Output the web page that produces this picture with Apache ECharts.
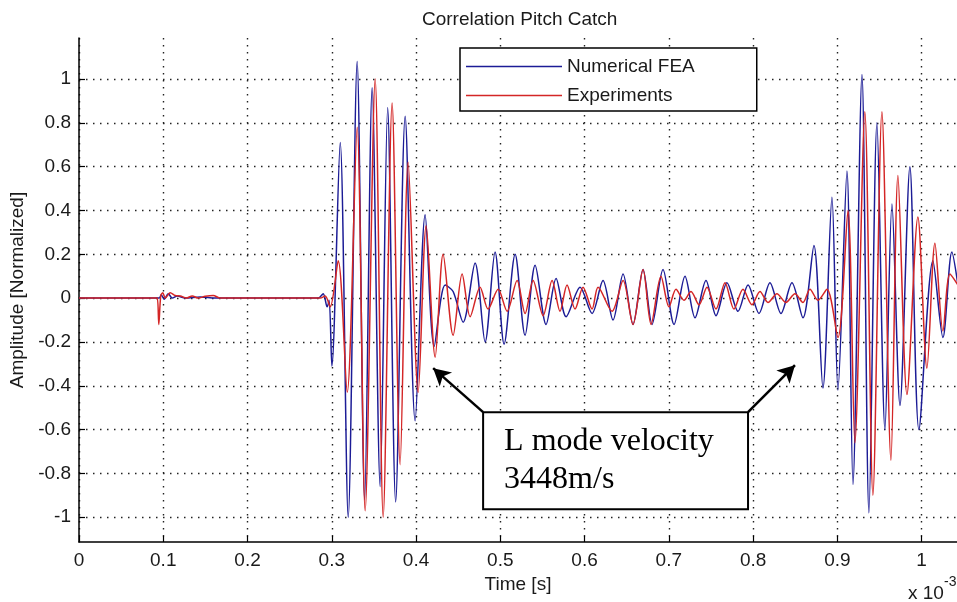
<!DOCTYPE html>
<html><head><meta charset="utf-8">
<script src="https://cdn.jsdelivr.net/npm/echarts@6/dist/echarts.min.js"></script>
<style>html,body{margin:0;padding:0;background:#fff}#c{width:957px;height:602px}</style>
</head><body><div id="c"></div>
<script>
// Time in units of 1e-3 s
const feaTime = [0, 0.0905, 0.0953, 0.0976, 0.1012, 0.1059, 0.1107, 0.1166, 0.1261, 0.1439, 0.1617, 0.2839, 0.2898, 0.2945, 0.2969, 0.3001, 0.3100, 0.3195, 0.3301, 0.3390, 0.3479, 0.3574, 0.3663, 0.3758, 0.3871, 0.3989, 0.4108, 0.4215, 0.4345, 0.4440, 0.4559, 0.4701, 0.4820, 0.4938, 0.5045, 0.5176, 0.5294, 0.5413, 0.5543, 0.5662, 0.5781, 0.5947, 0.6089, 0.6219, 0.6338, 0.6457, 0.6575, 0.6694, 0.6801, 0.6931, 0.7062, 0.7192, 0.7311, 0.7441, 0.7560, 0.7690, 0.7821, 0.7940, 0.8070, 0.8200, 0.8331, 0.8461, 0.8592, 0.8722, 0.8829, 0.8936, 0.9007, 0.9114, 0.9185, 0.9292, 0.9375, 0.9470, 0.9565, 0.9648, 0.9743, 0.9861, 0.9968, 1.0134, 1.0253, 1.0359, 1.0431];
const feaAmp = [0, 0, 0, 0.015, -0.005, 0.02, 0, 0.01, 0, 0.005, 0, 0, 0.02, -0.04, -0.01, -0.31, 0.71, -1.0, 1.08, -0.92, 0.96, -0.86, 0.87, -0.93, 0.83, -0.56, 0.38, -0.22, 0.06, 0.03, -0.11, 0.16, -0.2, 0.21, -0.21, 0.2, -0.17, 0.15, -0.12, 0.09, -0.085, 0.05, -0.07, 0.08, -0.1, 0.11, -0.12, 0.13, -0.12, 0.13, -0.12, 0.1, -0.09, 0.08, -0.08, 0.07, -0.06, 0.06, -0.07, 0.07, -0.07, 0.07, -0.09, 0.24, -0.41, 0.46, -0.42, 0.58, -0.85, 1.02, -0.98, 0.8, -0.6, 0.43, -0.49, 0.6, -0.6, 0.17, -0.18, 0.21, 0.06];
const expTime = [0, 0.0900, 0.0929, 0.0947, 0.0970, 0.0994, 0.1024, 0.1083, 0.1142, 0.1202, 0.1273, 0.1344, 0.1415, 0.1498, 0.1593, 0.1676, 0.2862, 0.2922, 0.2981, 0.3076, 0.3183, 0.3301, 0.3396, 0.3515, 0.3610, 0.3716, 0.3811, 0.3906, 0.4025, 0.4120, 0.4227, 0.4321, 0.4440, 0.4547, 0.4642, 0.4760, 0.4855, 0.4974, 0.5081, 0.5199, 0.5294, 0.5389, 0.5508, 0.5615, 0.5709, 0.5792, 0.5887, 0.5982, 0.6089, 0.6160, 0.6326, 0.6457, 0.6575, 0.6694, 0.6789, 0.6907, 0.7002, 0.7085, 0.7180, 0.7263, 0.7358, 0.7453, 0.7560, 0.7667, 0.7773, 0.7880, 0.7987, 0.8082, 0.8177, 0.8283, 0.8390, 0.8497, 0.8592, 0.8675, 0.8770, 0.8877, 0.9007, 0.9126, 0.9208, 0.9326, 0.9422, 0.9529, 0.9636, 0.9719, 0.9826, 0.9956, 1.0063, 1.0158, 1.0253, 1.0336, 1.0431];
const expAmp = [0, 0, 0, -0.12, 0.01, 0.025, 0, 0.025, 0.012, 0.01, 0, 0.01, 0, 0.008, 0.012, 0, 0, 0.01, -0.04, 0.17, -0.43, 0.78, -0.97, 1.0, -1.0, 0.89, -0.76, 0.62, -0.43, 0.33, -0.27, 0.2, -0.17, 0.11, -0.085, 0.05, -0.05, 0.04, -0.06, 0.08, -0.07, 0.08, -0.08, 0.08, -0.06, 0.06, -0.05, 0.05, -0.05, 0.05, -0.06, 0.08, -0.12, 0.13, -0.12, 0.1, -0.04, 0.04, -0.01, 0.03, -0.03, 0.05, -0.05, 0.07, -0.05, 0.04, -0.03, 0.03, -0.02, 0.02, -0.02, 0.02, -0.02, 0.04, -0.01, 0.04, -0.18, 0.4, -0.66, 0.85, -0.9, 0.85, -0.74, 0.56, -0.44, 0.37, -0.32, 0.25, -0.15, 0.11, 0.06];
const xTicks = [0, 0.1, 0.2, 0.3, 0.4, 0.5, 0.6, 0.7, 0.8, 0.9, 1];
const xTickLabels = ['0', '0.1', '0.2', '0.3', '0.4', '0.5', '0.6', '0.7', '0.8', '0.9', '1'];
const yTicks = [-1, -0.8, -0.6, -0.4, -0.2, 0, 0.2, 0.4, 0.6, 0.8, 1];
const yTickLabels = ['-1', '-0.8', '-0.6', '-0.4', '-0.2', '0', '0.2', '0.4', '0.6', '0.8', '1'];
const seriesNames = ['Numerical FEA', 'Experiments'];
const annotationText = ['L mode velocity', '3448m/s'];

const zip = (t, a) => t.map((v, i) => [v, a[i]]);
const FONT = '"Liberation Sans", Arial, sans-serif';
const fmt = (ticks, labels) => v => {
  const i = ticks.findIndex(t => Math.abs(t - v) < 1e-6);
  return i >= 0 ? labels[i] : '';
};

const chart = echarts.init(document.getElementById('c'), null, {renderer: 'canvas'});
chart.setOption({
  animation: false,
  backgroundColor: '#fff',
  title: {
    text: 'Correlation Pitch Catch', left: 417, top: 5,
    textStyle: {fontFamily: FONT, fontSize: 19, fontWeight: 'normal', color: '#1a1a1a'}
  },
  grid: {left: 79, right: 0, top: 38, bottom: 60, containLabel: false},
  legend: {
    data: seriesNames, orient: 'vertical', left: 460, top: 48,
    padding: [9, 62, 6, 6], itemGap: 10, itemWidth: 96, itemHeight: 1.4, icon: 'rect',
    backgroundColor: '#fff', borderColor: '#000', borderWidth: 1.5,
    textStyle: {fontFamily: FONT, fontSize: 19, color: '#1a1a1a', lineHeight: 19}
  },
  xAxis: {
    type: 'value', min: 0, max: 1.042,
    name: 'Time [s]', nameLocation: 'middle', nameGap: 32,
    nameTextStyle: {fontFamily: FONT, fontSize: 19, color: '#1a1a1a'},
    axisLine: {show: true, onZero: false, lineStyle: {color: '#000', width: 1.5}},
    axisTick: {show: true, inside: true, length: 6, customValues: xTicks, lineStyle: {color: '#000', width: 1.2}},
    axisLabel: {customValues: xTicks, formatter: fmt(xTicks, xTickLabels), margin: 9, fontFamily: FONT, fontSize: 19, color: '#1a1a1a'},
    splitLine: {show: true, lineStyle: {color: '#222', width: 1.4, type: [1.5, 5.5]}}
  },
  yAxis: {
    type: 'value', min: -1.113, max: 1.187,
    name: 'Amplitude [Normalized]', nameLocation: 'middle', nameGap: 36, nameRotate: 90,
    nameTextStyle: {fontFamily: FONT, fontSize: 19, color: '#1a1a1a'},
    axisLine: {show: true, onZero: false, lineStyle: {color: '#000', width: 1.5}},
    axisTick: {show: true, inside: true, length: 6, customValues: yTicks, lineStyle: {color: '#000', width: 1.2}},
    axisLabel: {customValues: yTicks, formatter: fmt(yTicks, yTickLabels), margin: 8, fontFamily: FONT, fontSize: 19, color: '#1a1a1a'},
    splitLine: {show: true, lineStyle: {color: '#222', width: 1.4, type: [1.5, 5.5]}}
  },
  series: [
    {
      name: seriesNames[0], type: 'line', data: zip(feaTime, feaAmp),
      symbol: 'none', smooth: 0.3, color: '#1c1c96',
      lineStyle: {color: '#1c1c96', width: 1.5}, z: 3
    },
    {
      name: seriesNames[1], type: 'line', data: zip(expTime, expAmp),
      symbol: 'none', smooth: 0.3, color: '#d42626',
      lineStyle: {color: '#d42626', width: 1.5}, z: 4,
      markArea: {
        silent: true,
        itemStyle: {color: '#fff', borderColor: '#000', borderWidth: 2, opacity: 1},
        label: {
          show: true, position: 'insideTopLeft', distance: 0,
          formatter: annotationText.join('\n'),
          fontFamily: '"Liberation Serif", "Times New Roman", serif', fontSize: 32, lineHeight: 38,
          color: '#000', padding: [11, 0, 0, 22]
        },
        data: [[{coord: [0.4796, -0.5205]}, {coord: [0.7940, -0.9635]}]]
      },
      markLine: {
        silent: true, symbol: ['none', 'arrow'], symbolSize: [14, 17],
        lineStyle: {color: '#000', width: 2.5, type: 'solid'},
        label: {show: false},
        data: [
          [{coord: [0.4796, -0.5205]}, {coord: [0.4203, -0.3196]}],
          [{coord: [0.7940, -0.5205]}, {coord: [0.8497, -0.3060]}]
        ]
      }
    }
  ],
  graphic: [
    {type: 'text', left: 908, top: 584, style: {text: 'x 10', font: '19px "Liberation Sans", Arial', fill: '#1a1a1a'}},
    {type: 'text', left: 944, top: 575, style: {text: '-3', font: '14px "Liberation Sans", Arial', fill: '#1a1a1a'}}
  ]
});
</script></body></html>
